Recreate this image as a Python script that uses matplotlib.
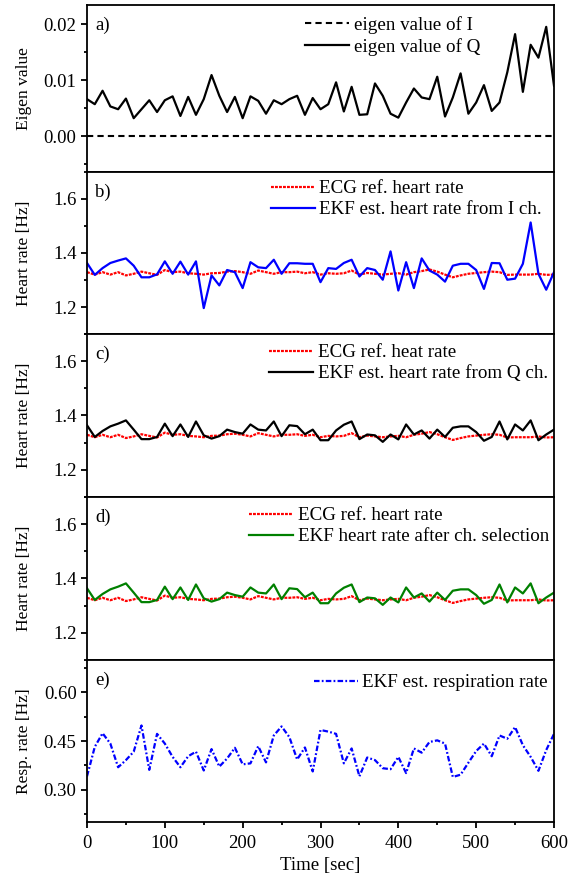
import numpy as np
import matplotlib
matplotlib.use("Agg")
import matplotlib.pyplot as plt
from matplotlib.ticker import MultipleLocator

plt.rcParams['font.family'] = ['Liberation Serif', 'DejaVu Serif']
plt.rcParams['font.size'] = 13

# time axis, one sample every 10 s
time_s = list(range(0, 601, 10))

# a) eigen values
eig_i = [0.0] * 61
eig_q = [0.0066, 0.0057, 0.0081, 0.0053, 0.0048, 0.0067, 0.0032, 0.0048, 0.0064, 0.0043,
         0.0064, 0.0071, 0.0036, 0.0070, 0.0038, 0.0066, 0.0109, 0.0072, 0.0043, 0.0070,
         0.0032, 0.0071, 0.0063, 0.0040, 0.0064, 0.0057, 0.0066, 0.0072, 0.0038, 0.0068,
         0.0048, 0.0057, 0.0096, 0.0044, 0.0088, 0.0038, 0.0039, 0.0094, 0.0072, 0.0040,
         0.0033, 0.0060, 0.0085, 0.0069, 0.0066, 0.0106, 0.0035, 0.0069, 0.0112, 0.0040,
         0.0060, 0.0091, 0.0045, 0.0060, 0.0114, 0.0182, 0.0079, 0.0163, 0.0140, 0.0195,
         0.0090]

# ECG reference heart rate
ecg_ref = [1.329, 1.320, 1.329, 1.320, 1.329, 1.317, 1.323, 1.331, 1.325, 1.319,
           1.337, 1.329, 1.331, 1.325, 1.323, 1.320, 1.325, 1.326, 1.331, 1.333,
           1.329, 1.323, 1.335, 1.329, 1.323, 1.329, 1.329, 1.331, 1.325, 1.329,
           1.320, 1.325, 1.323, 1.325, 1.335, 1.320, 1.326, 1.323, 1.320, 1.323,
           1.325, 1.320, 1.329, 1.333, 1.339, 1.331, 1.320, 1.310, 1.317, 1.323,
           1.326, 1.329, 1.331, 1.329, 1.319, 1.320, 1.320, 1.320, 1.323, 1.319,
           1.320]

# b) EKF from I channel
ekf_i = [1.363, 1.319, 1.344, 1.363, 1.372, 1.380, 1.353, 1.310, 1.310, 1.321,
         1.369, 1.323, 1.368, 1.320, 1.369, 1.196, 1.317, 1.280, 1.337, 1.329,
         1.270, 1.366, 1.347, 1.344, 1.375, 1.323, 1.362, 1.362, 1.360, 1.360,
         1.292, 1.344, 1.341, 1.363, 1.375, 1.313, 1.344, 1.337, 1.301, 1.406,
         1.261, 1.366, 1.270, 1.380, 1.335, 1.320, 1.294, 1.353, 1.360, 1.360,
         1.337, 1.267, 1.363, 1.362, 1.301, 1.305, 1.360, 1.513, 1.323, 1.264,
         1.329]

# c) EKF from Q channel
ekf_q = [1.364, 1.321, 1.343, 1.360, 1.370, 1.382, 1.348, 1.313, 1.313, 1.321,
         1.370, 1.324, 1.367, 1.321, 1.378, 1.327, 1.315, 1.324, 1.348, 1.339,
         1.333, 1.367, 1.348, 1.345, 1.378, 1.324, 1.364, 1.361, 1.331, 1.348,
         1.309, 1.309, 1.345, 1.366, 1.378, 1.313, 1.330, 1.327, 1.303, 1.330,
         1.312, 1.367, 1.330, 1.345, 1.315, 1.348, 1.321, 1.355, 1.360, 1.360,
         1.339, 1.307, 1.321, 1.378, 1.312, 1.367, 1.345, 1.382, 1.309, 1.330,
         1.348]

# d) EKF after channel selection
ekf_sel = [1.364, 1.321, 1.343, 1.360, 1.370, 1.382, 1.348, 1.313, 1.313, 1.321,
           1.370, 1.324, 1.367, 1.321, 1.378, 1.327, 1.315, 1.324, 1.348, 1.339,
           1.333, 1.367, 1.348, 1.345, 1.378, 1.324, 1.364, 1.361, 1.331, 1.348,
           1.309, 1.309, 1.345, 1.366, 1.378, 1.313, 1.330, 1.327, 1.303, 1.330,
           1.312, 1.367, 1.330, 1.345, 1.315, 1.348, 1.321, 1.355, 1.360, 1.360,
           1.339, 1.307, 1.321, 1.378, 1.312, 1.367, 1.345, 1.382, 1.309, 1.330,
           1.348]

# e) respiration rate
resp = [0.341, 0.432, 0.474, 0.442, 0.369, 0.391, 0.417, 0.498, 0.361, 0.472,
        0.442, 0.401, 0.369, 0.403, 0.417, 0.359, 0.425, 0.371, 0.396, 0.429,
        0.378, 0.381, 0.434, 0.384, 0.467, 0.495, 0.462, 0.393, 0.430, 0.356,
        0.484, 0.479, 0.472, 0.381, 0.427, 0.341, 0.399, 0.391, 0.366, 0.363,
        0.401, 0.351, 0.427, 0.414, 0.447, 0.452, 0.442, 0.339, 0.346, 0.383,
        0.419, 0.442, 0.403, 0.467, 0.457, 0.493, 0.437, 0.401, 0.358, 0.422,
        0.472]

W, H = 569, 877
fig = plt.figure(figsize=(W / 100, H / 100), dpi=100)

L, R = 87, 554
rows = [(5, 172), (172, 334), (334, 497), (497, 660), (660, 822)]
axes = [fig.add_axes([L / W, 1 - b / H, (R - L) / W, (b - t) / H]) for t, b in rows]

red_style = dict(color='red', lw=1.6, linestyle=(0, (1.3, 0.5)))

def legend(ax, right_px, top_px, row):
    t, b = rows[row]
    ax.legend(loc='upper right', bbox_to_anchor=((right_px - L) / (R - L), 1 - (top_px - t) / (b - t)),
              frameon=False, fontsize=13.7, handlelength=2.3, handletextpad=0.25,
              labelspacing=0.2, borderpad=0, borderaxespad=0)

ax = axes[0]
ax.plot(time_s, eig_i, color='black', lw=1.5, linestyle=(0, (3, 2)), label='eigen value of I')
ax.plot(time_s, eig_q, color='black', lw=1.6, label='eigen value of Q')
ax.set_ylim(-0.0064, 0.0234)
ax.yaxis.set_major_locator(MultipleLocator(0.01))
ax.yaxis.set_minor_locator(MultipleLocator(0.005))
ax.yaxis.set_major_formatter(matplotlib.ticker.FormatStrFormatter('%.2f'))
ax.set_ylabel('Eigen value', fontsize=12.5)
legend(ax, 480, 16, 0)

ax = axes[1]
ax.plot(time_s, ecg_ref, label='ECG ref. heart rate', **red_style)
ax.plot(time_s, ekf_i, color='#0000ff', lw=1.6, label='EKF est. heart rate from I ch.')
legend(ax, 542, 180, 1)

ax = axes[2]
ax.plot(time_s, ecg_ref, label='ECG ref. heat rate', **red_style)
ax.plot(time_s, ekf_q, color='black', lw=1.6, label='EKF est. heart rate from Q ch.')
legend(ax, 548, 344, 2)

ax = axes[3]
ax.plot(time_s, ecg_ref, label='ECG ref. heart rate', **red_style)
ax.plot(time_s, ekf_sel, color='#008000', lw=1.6, label='EKF heart rate after ch. selection')
legend(ax, 549, 507, 3)

for ax in axes[1:4]:
    ax.set_ylim(1.1, 1.7)
    ax.yaxis.set_major_locator(MultipleLocator(0.2))
    ax.yaxis.set_minor_locator(MultipleLocator(0.1))
    ax.set_ylabel('Heart rate [Hz]', fontsize=12.5)

ax = axes[4]
ax.plot(time_s, resp, color='#0000ff', lw=1.6, linestyle=(0, (2.5, 1, 0.8, 1)),
        label='EKF est. respiration rate')
ax.set_ylim(0.2, 0.7)
ax.yaxis.set_major_locator(MultipleLocator(0.15))
ax.yaxis.set_minor_locator(MultipleLocator(0.075))
ax.yaxis.set_major_formatter(matplotlib.ticker.FormatStrFormatter('%.2f'))
ax.set_ylabel('Resp. rate [Hz]', fontsize=12.5)
ax.set_xlabel('Time [sec]', fontsize=13.5, labelpad=4)
legend(ax, 548, 674, 4)

for i, ax in enumerate(axes):
    ax.set_xlim(0, 600)
    ax.xaxis.set_major_locator(MultipleLocator(100))
    ax.xaxis.set_minor_locator(MultipleLocator(50))
    for s in ax.spines.values():
        s.set_linewidth(1.3)
    ax.tick_params(which='both', direction='out', width=1.3, labelsize=13.5, top=False, right=False)
    ax.tick_params(which='major', length=4)
    ax.tick_params(which='minor', length=2.5)
    ax.tick_params(axis='x', pad=5)
    ax.yaxis.set_label_coords(-0.117, 0.5)
    if i < 4:
        ax.tick_params(which='both', bottom=False, labelbottom=False)
    ax.text(0.017, 0.93, 'abcde'[i] + ')', transform=ax.transAxes, fontsize=13.5, va='top', ha='left')

fig.savefig('out.png', dpi=100)
